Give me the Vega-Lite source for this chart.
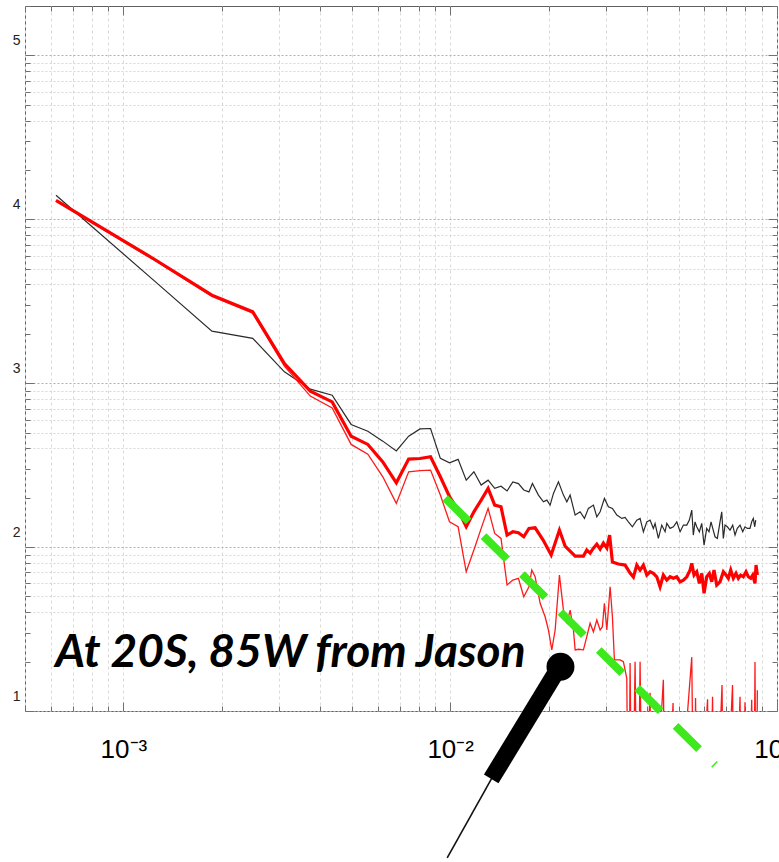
{
  "$schema": "https://vega.github.io/schema/vega-lite/v6.json",
  "width": 752,
  "height": 705,
  "autosize": "none",
  "padding": {"left": 25, "top": 6, "right": 2, "bottom": 151},
  "background": "white",
  "config": {"view": {"stroke": "#606060", "strokeWidth": 1}},
  "datasets": {
    "black": [
      {"f": 0.000622, "p": 14000}, {"f": 0.001244, "p": 4207}, {"f": 0.001866, "p": 2075}, {"f": 0.002488, "p": 1875},
      {"f": 0.00311, "p": 1172}, {"f": 0.003732, "p": 919}, {"f": 0.004354, "p": 845}, {"f": 0.004976, "p": 560},
      {"f": 0.005598, "p": 509}, {"f": 0.00622, "p": 443}, {"f": 0.006842, "p": 386}, {"f": 0.007464, "p": 475},
      {"f": 0.008086, "p": 526}, {"f": 0.008708, "p": 529}, {"f": 0.00933, "p": 348}, {"f": 0.009952, "p": 327},
      {"f": 0.010574, "p": 343}, {"f": 0.011196, "p": 256}, {"f": 0.011818, "p": 288}, {"f": 0.01244, "p": 239},
      {"f": 0.013062, "p": 256}, {"f": 0.013684, "p": 228}, {"f": 0.014306, "p": 235}, {"f": 0.014928, "p": 220},
      {"f": 0.01555, "p": 250}, {"f": 0.016172, "p": 244}, {"f": 0.016794, "p": 223}, {"f": 0.017416, "p": 217},
      {"f": 0.01785, "p": 244.5}, {"f": 0.01862, "p": 207.6}, {"f": 0.01929, "p": 188.9}, {"f": 0.01976, "p": 193.5},
      {"f": 0.02022, "p": 180.4}, {"f": 0.0207, "p": 212.6}, {"f": 0.02144, "p": 250.2}, {"f": 0.02221, "p": 207.6},
      {"f": 0.02275, "p": 188.9}, {"f": 0.02328, "p": 207.6}, {"f": 0.02412, "p": 156.7}, {"f": 0.02498, "p": 164.2},
      {"f": 0.02575, "p": 149.6}, {"f": 0.02648, "p": 172.2}, {"f": 0.02743, "p": 180.4}, {"f": 0.0281, "p": 153},
      {"f": 0.02876, "p": 164.2}, {"f": 0.02964, "p": 198.1}, {"f": 0.03049, "p": 176.1}, {"f": 0.03136, "p": 172.2},
      {"f": 0.03235, "p": 156.7}, {"f": 0.03351, "p": 149.6}, {"f": 0.03429, "p": 151.7}, {"f": 0.0351, "p": 142.6},
      {"f": 0.0361, "p": 133}, {"f": 0.03724, "p": 146.1}, {"f": 0.03811, "p": 149.6},
      {"f": 0.03901, "p": 124}, {"f": 0.03996, "p": 142.6}, {"f": 0.04089, "p": 146.1}, {"f": 0.04185, "p": 130},
      {"f": 0.04236, "p": 139.5}, {"f": 0.04335, "p": 113}, {"f": 0.0444, "p": 136.2}, {"f": 0.04545, "p": 124},
      {"f": 0.046, "p": 139.5}, {"f": 0.04708, "p": 130}, {"f": 0.04819, "p": 133}, {"f": 0.04936, "p": 142.6},
      {"f": 0.05052, "p": 124}, {"f": 0.05171, "p": 136.2}, {"f": 0.05296, "p": 136.2}, {"f": 0.05393, "p": 146.1},
      {"f": 0.05485, "p": 168.1}, {"f": 0.05546, "p": 118.4}, {"f": 0.05613, "p": 142.6}, {"f": 0.05681, "p": 133},
      {"f": 0.05787, "p": 124}, {"f": 0.05885, "p": 139.5}, {"f": 0.05982, "p": 102.8}, {"f": 0.06095, "p": 130},
      {"f": 0.06194, "p": 124}, {"f": 0.06283, "p": 142.6}, {"f": 0.06359, "p": 130}, {"f": 0.06462, "p": 115.6},
      {"f": 0.06568, "p": 113}, {"f": 0.06694, "p": 142.6}, {"f": 0.06775, "p": 164.2}, {"f": 0.06852, "p": 113},
      {"f": 0.06934, "p": 136.2}, {"f": 0.07047, "p": 133}, {"f": 0.07183, "p": 127}, {"f": 0.0732, "p": 136.2},
      {"f": 0.0744, "p": 118.4}, {"f": 0.07561, "p": 130}, {"f": 0.07707, "p": 136.2}, {"f": 0.07854, "p": 124},
      {"f": 0.07982, "p": 133}, {"f": 0.08113, "p": 130}, {"f": 0.08268, "p": 130}, {"f": 0.08368, "p": 142.6},
      {"f": 0.08463, "p": 149.6}, {"f": 0.08547, "p": 133}, {"f": 0.08608, "p": 146.1}
    ],
    "red": [
      {"f": 0.000622, "p": 13060}, {"f": 0.001244, "p": 5702}, {"f": 0.001866, "p": 3444}, {"f": 0.002488, "p": 2723},
      {"f": 0.00311, "p": 1318}, {"f": 0.003732, "p": 894}, {"f": 0.004354, "p": 769}, {"f": 0.004976, "p": 475},
      {"f": 0.005598, "p": 423}, {"f": 0.00622, "p": 331}, {"f": 0.006842, "p": 246.5}, {"f": 0.007464, "p": 344},
      {"f": 0.008086, "p": 347}, {"f": 0.008708, "p": 355.6}, {"f": 0.00933, "p": 268.5}, {"f": 0.009952, "p": 202.9},
      {"f": 0.010574, "p": 168.1}, {"f": 0.011196, "p": 133}, {"f": 0.011818, "p": 164.2}, {"f": 0.01244, "p": 193.5},
      {"f": 0.013062, "p": 228}, {"f": 0.013684, "p": 180.4}, {"f": 0.014306, "p": 176.1}, {"f": 0.014928, "p": 118.4},
      {"f": 0.01555, "p": 124}, {"f": 0.016172, "p": 122.3}, {"f": 0.016794, "p": 115.6}, {"f": 0.017416, "p": 130},
      {"f": 0.01819, "p": 131.1}, {"f": 0.01925, "p": 110.3}, {"f": 0.02037, "p": 89.4}, {"f": 0.02159, "p": 127},
      {"f": 0.02247, "p": 101.4}, {"f": 0.02412, "p": 88.1}, {"f": 0.02557, "p": 88.1}, {"f": 0.02618, "p": 95.9},
      {"f": 0.0268, "p": 91.9}, {"f": 0.02743, "p": 98.6}, {"f": 0.0281, "p": 104.3}, {"f": 0.02876, "p": 97.2},
      {"f": 0.02943, "p": 105.8}, {"f": 0.03015, "p": 98.6}, {"f": 0.03075, "p": 118.4}, {"f": 0.03136, "p": 81},
      {"f": 0.03271, "p": 78.8}, {"f": 0.03429, "p": 77.7}, {"f": 0.03552, "p": 69.4}, {"f": 0.03636, "p": 65.6},
      {"f": 0.03724, "p": 77.7}, {"f": 0.03811, "p": 72.4},
      {"f": 0.03901, "p": 77.7}, {"f": 0.03996, "p": 67.5}, {"f": 0.04089, "p": 70.7}, {"f": 0.04185, "p": 69.1},
      {"f": 0.04287, "p": 65.9}, {"f": 0.04387, "p": 57.3}, {"f": 0.0449, "p": 67.5}, {"f": 0.046, "p": 62.9},
      {"f": 0.04708, "p": 65.9}, {"f": 0.04819, "p": 64.5}, {"f": 0.04936, "p": 65.9}, {"f": 0.05052, "p": 61.4},
      {"f": 0.05171, "p": 62.9}, {"f": 0.05296, "p": 65.9}, {"f": 0.05419, "p": 72.4}, {"f": 0.05485, "p": 79.6},
      {"f": 0.05574, "p": 67.5}, {"f": 0.05681, "p": 70.7}, {"f": 0.05787, "p": 60.1}, {"f": 0.05885, "p": 69.1},
      {"f": 0.05982, "p": 52.2}, {"f": 0.06095, "p": 65.9}, {"f": 0.06209, "p": 69.1}, {"f": 0.06314, "p": 61.4},
      {"f": 0.06416, "p": 72.4}, {"f": 0.0654, "p": 58.7}, {"f": 0.06694, "p": 61.4}, {"f": 0.06852, "p": 70.7},
      {"f": 0.06982, "p": 67.5}, {"f": 0.07097, "p": 64.5}, {"f": 0.07218, "p": 72.4}, {"f": 0.07352, "p": 64.5},
      {"f": 0.07492, "p": 69.1}, {"f": 0.07615, "p": 64.5}, {"f": 0.07745, "p": 67.5}, {"f": 0.07887, "p": 65.9},
      {"f": 0.08039, "p": 70.7}, {"f": 0.0817, "p": 65.9}, {"f": 0.08309, "p": 64.5}, {"f": 0.08427, "p": 67.5},
      {"f": 0.08564, "p": 60.1}, {"f": 0.08626, "p": 77.7}, {"f": 0.08706, "p": 67.5}
    ],
    "thin": [
      {"f": 0.000622, "p": 12880}, {"f": 0.001244, "p": 5623}, {"f": 0.001866, "p": 3388}, {"f": 0.002488, "p": 2673},
      {"f": 0.00311, "p": 1271}, {"f": 0.003732, "p": 834}, {"f": 0.004354, "p": 706}, {"f": 0.004976, "p": 423},
      {"f": 0.005598, "p": 369}, {"f": 0.00622, "p": 268.5}, {"f": 0.006842, "p": 184.7}, {"f": 0.007464, "p": 287.7},
      {"f": 0.008086, "p": 292.7}, {"f": 0.008708, "p": 294.8}, {"f": 0.00933, "p": 207.6}, {"f": 0.009952, "p": 142.6},
      {"f": 0.010574, "p": 133}, {"f": 0.011196, "p": 70.7}, {"f": 0.011818, "p": 95.9}, {"f": 0.01244, "p": 130},
      {"f": 0.013062, "p": 172.2}, {"f": 0.013684, "p": 121.2}, {"f": 0.014306, "p": 113}, {"f": 0.014928, "p": 58.7},
      {"f": 0.01555, "p": 62.9}, {"f": 0.016172, "p": 64.5}, {"f": 0.016794, "p": 49.8}, {"f": 0.017416, "p": 57.3},
      {"f": 0.01777, "p": 72.4}, {"f": 0.01819, "p": 65.9}, {"f": 0.01885, "p": 45.4}, {"f": 0.01952, "p": 37.6},
      {"f": 0.01998, "p": 31.2}, {"f": 0.02046, "p": 23.6}, {"f": 0.02095, "p": 31.2}, {"f": 0.02159, "p": 67.5},
      {"f": 0.02221, "p": 41.3}, {"f": 0.02275, "p": 34.3}, {"f": 0.02328, "p": 41.3}, {"f": 0.02383, "p": 31.2},
      {"f": 0.02412, "p": 23.6}, {"f": 0.02469, "p": 23.8}, {"f": 0.02557, "p": 23.6}, {"f": 0.02618, "p": 28.4},
      {"f": 0.0268, "p": 34.3}, {"f": 0.02743, "p": 30.4}, {"f": 0.0281, "p": 35.9}, {"f": 0.02876, "p": 31.2},
      {"f": 0.02922, "p": 32.7}, {"f": 0.02964, "p": 45.4}, {"f": 0.03015, "p": 31.2}, {"f": 0.03086, "p": 57.3},
      {"f": 0.03136, "p": 37.6}, {"f": 0.0318, "p": 20.5}, {"f": 0.03235, "p": 20.5}, {"f": 0.03311, "p": 20.5},
      {"f": 0.03388, "p": 20}, {"f": 0.0347, "p": 15.8}, {"f": 0.03515, "p": 1}, {"f": 0.03552, "p": 19.6},
      {"f": 0.03603, "p": 1}, {"f": 0.03679, "p": 20}, {"f": 0.03745, "p": 1}, {"f": 0.03811, "p": 20},
      {"f": 0.03879, "p": 1}, {"f": 0.04089, "p": 12.9}, {"f": 0.04147, "p": 1}, {"f": 0.0449, "p": 15.5},
      {"f": 0.0456, "p": 1}, {"f": 0.04808, "p": 11.2}, {"f": 0.04876, "p": 1}, {"f": 0.05485, "p": 21.3},
      {"f": 0.05574, "p": 1}, {"f": 0.05633, "p": 12}, {"f": 0.05713, "p": 1}, {"f": 0.06131, "p": 11.8},
      {"f": 0.06217, "p": 1}, {"f": 0.0635, "p": 12.2}, {"f": 0.0644, "p": 1}, {"f": 0.06789, "p": 14.4},
      {"f": 0.06885, "p": 1}, {"f": 0.0731, "p": 14.4}, {"f": 0.07413, "p": 1}, {"f": 0.07707, "p": 12.2},
      {"f": 0.07816, "p": 1}, {"f": 0.07982, "p": 11.3}, {"f": 0.08096, "p": 1}, {"f": 0.08368, "p": 11.7},
      {"f": 0.08475, "p": 1}, {"f": 0.08564, "p": 19.9}, {"f": 0.08638, "p": 1}, {"f": 0.08706, "p": 13.4}
    ],
    "fit": [{"f": 0.009654, "p": 199}, {"f": 0.06462, "p": 4.686}],
    "tail": [{"f": 0.009791, "p": 1.27}, {"f": 0.01353, "p": 4.015}],
    "shaft": [{"f": 0.01335, "p": 3.85}, {"f": 0.02085, "p": 16.6}],
    "head": [{"f": 0.02175, "p": 18.6}],
    "note": [{"f": 0.000619, "p": 18.5, "text": "At 20S, 85W from Jason"}]
  },
  "layer": [
    {
      "data": {"name": "black"},
      "mark": {"type": "line", "color": "#2a2a2a", "strokeWidth": 1.2},
      "encoding": {
        "x": {
          "field": "f", "type": "quantitative",
          "scale": {"type": "log", "domain": [0.0005, 0.1], "nice": false},
          "axis": {
            "orient": "bottom", "title": null, "domain": false,
            "values": [0.0005, 0.0006, 0.0007, 0.0008, 0.0009, 0.001, 0.002, 0.003, 0.004, 0.005, 0.006, 0.007, 0.008, 0.009, 0.01, 0.02, 0.03, 0.04, 0.05, 0.06, 0.07, 0.08, 0.09, 0.1],
            "labelExpr": "datum.value == 0.001 ? '10⁻³' : datum.value == 0.01 ? '10⁻²' : datum.value == 0.1 ? '10⁻¹' : ''",
            "labelFont": "Liberation Sans", "labelFontSize": 26, "labelColor": "#000000",
            "labelFlush": false, "labelOverlap": false, "labelPadding": 34,
            "tickColor": "#707070", "tickWidth": 1,
            "tickSize": {"condition": {"test": "datum.value == 0.001 || datum.value == 0.01 || datum.value == 0.1", "value": -9}, "value": -5},
            "grid": true, "gridColor": "#dadada", "gridDash": [3, 3], "gridWidth": 1
          }
        },
        "y": {
          "field": "p", "type": "quantitative",
          "scale": {"type": "log", "domain": [10, 200000], "nice": false},
          "axis": {
            "orient": "left", "title": null, "domain": false,
            "values": [10, 20, 30, 40, 50, 60, 70, 80, 90, 100, 200, 300, 400, 500, 600, 700, 800, 900, 1000, 2000, 3000, 4000, 5000, 6000, 7000, 8000, 9000, 10000, 20000, 30000, 40000, 50000, 60000, 70000, 80000, 90000, 100000, 200000],
            "labelExpr": "datum.value == 10 ? '1' : datum.value == 100 ? '2' : datum.value == 1000 ? '3' : datum.value == 10000 ? '4' : datum.value == 100000 ? '5' : ''",
            "labelFont": "Liberation Sans", "labelFontSize": 14, "labelColor": "#222222",
            "labelFlush": false, "labelOverlap": false, "labelPadding": 14, "labelOffset": -15,
            "tickColor": "#707070", "tickWidth": 1,
            "tickSize": {"condition": {"test": "indexof([10, 100, 1000, 10000, 100000], datum.value) >= 0", "value": -9}, "value": -5},
            "grid": true, "gridDash": [2, 2], "gridWidth": 1,
            "gridColor": {"condition": {"test": "indexof([10, 100, 1000, 10000, 100000], datum.value) >= 0", "value": "#b0b0b0"}, "value": "#d6d6d6"},
            "gridOpacity": {"condition": {"test": "indexof([20, 30, 200, 300, 2000, 3000, 20000, 30000, 200000], datum.value) >= 0", "value": 0}, "value": 1}
          }
        }
      }
    },
    {
      "data": {"name": "thin"},
      "mark": {"type": "line", "color": "#ff1a1a", "strokeWidth": 1.3, "clip": true},
      "encoding": {
        "x": {
          "field": "f", "type": "quantitative",
          "scale": {"type": "log", "domain": [0.0005, 0.1], "nice": false},
          "axis": {
            "orient": "top", "title": null, "domain": false, "labels": false, "grid": false,
            "values": [0.0005, 0.0006, 0.0007, 0.0008, 0.0009, 0.001, 0.002, 0.003, 0.004, 0.005, 0.006, 0.007, 0.008, 0.009, 0.01, 0.02, 0.03, 0.04, 0.05, 0.06, 0.07, 0.08, 0.09, 0.1],
            "tickColor": "#707070", "tickWidth": 1,
            "tickSize": {"condition": {"test": "datum.value == 0.001 || datum.value == 0.01 || datum.value == 0.1", "value": -9}, "value": -5}
          }
        },
        "y": {
          "field": "p", "type": "quantitative",
          "scale": {"type": "log", "domain": [10, 200000], "nice": false},
          "axis": {
            "orient": "right", "title": null, "domain": false, "labels": false, "grid": false,
            "values": [10, 20, 30, 40, 50, 60, 70, 80, 90, 100, 200, 300, 400, 500, 600, 700, 800, 900, 1000, 2000, 3000, 4000, 5000, 6000, 7000, 8000, 9000, 10000, 20000, 30000, 40000, 50000, 60000, 70000, 80000, 90000, 100000, 200000],
            "tickColor": "#707070", "tickWidth": 1,
            "tickSize": {"condition": {"test": "indexof([10, 100, 1000, 10000, 100000], datum.value) >= 0", "value": -9}, "value": -5}
          }
        }
      }
    },
    {
      "data": {"name": "red"},
      "mark": {"type": "line", "color": "#ff0000", "strokeWidth": 3.2},
      "encoding": {
        "x": {"field": "f", "type": "quantitative", "scale": {"type": "log", "domain": [0.0005, 0.1], "nice": false}, "axis": null},
        "y": {"field": "p", "type": "quantitative", "scale": {"type": "log", "domain": [10, 200000], "nice": false}, "axis": null}
      }
    },
    {
      "data": {"name": "fit"},
      "mark": {"type": "line", "color": "#3de81c", "strokeWidth": 8, "strokeDash": [33, 21], "strokeCap": "butt"},
      "encoding": {
        "x": {"field": "f", "type": "quantitative", "scale": {"type": "log", "domain": [0.0005, 0.1], "nice": false}, "axis": null},
        "y": {"field": "p", "type": "quantitative", "scale": {"type": "log", "domain": [10, 200000], "nice": false}, "axis": null}
      }
    },
    {
      "data": {"name": "tail"},
      "mark": {"type": "line", "color": "#111111", "strokeWidth": 1.6},
      "encoding": {
        "x": {"field": "f", "type": "quantitative", "scale": {"type": "log", "domain": [0.0005, 0.1], "nice": false}, "axis": null},
        "y": {"field": "p", "type": "quantitative", "scale": {"type": "log", "domain": [10, 200000], "nice": false}, "axis": null}
      }
    },
    {
      "data": {"name": "shaft"},
      "mark": {"type": "line", "color": "#000000", "strokeWidth": 17, "strokeCap": "butt"},
      "encoding": {
        "x": {"field": "f", "type": "quantitative", "scale": {"type": "log", "domain": [0.0005, 0.1], "nice": false}, "axis": null},
        "y": {"field": "p", "type": "quantitative", "scale": {"type": "log", "domain": [10, 200000], "nice": false}, "axis": null}
      }
    },
    {
      "data": {"name": "head"},
      "mark": {"type": "point", "filled": true, "color": "#000000", "opacity": 1, "size": 780},
      "encoding": {
        "x": {"field": "f", "type": "quantitative", "scale": {"type": "log", "domain": [0.0005, 0.1], "nice": false}, "axis": null},
        "y": {"field": "p", "type": "quantitative", "scale": {"type": "log", "domain": [10, 200000], "nice": false}, "axis": null}
      }
    },
    {
      "data": {"name": "note"},
      "mark": {"type": "text", "font": "Lato", "fontStyle": "italic", "fontWeight": "bold", "fontSize": 46, "align": "left", "baseline": "alphabetic", "color": "#000000"},
      "encoding": {
        "x": {"field": "f", "type": "quantitative", "scale": {"type": "log", "domain": [0.0005, 0.1], "nice": false}, "axis": null},
        "y": {"field": "p", "type": "quantitative", "scale": {"type": "log", "domain": [10, 200000], "nice": false}, "axis": null},
        "text": {"field": "text", "type": "nominal"}
      }
    }
  ],
  "resolve": {"axis": {"x": "independent", "y": "independent"}}
}
